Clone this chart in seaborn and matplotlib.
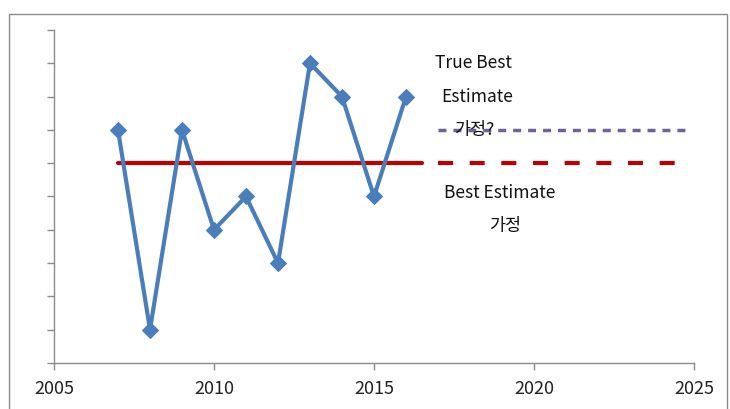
import matplotlib
matplotlib.use("Agg")
import matplotlib.pyplot as plt
import seaborn as sns
import pandas as pd
from matplotlib.patches import Rectangle

sns.set_theme(style="white")
plt.rcParams['font.family'] = ['Noto Sans CJK KR', 'DejaVu Sans']

years = [2007, 2008, 2009, 2010, 2011, 2012, 2013, 2014, 2015, 2016]
values = [7, 1, 7, 4, 5, 3, 9, 8, 5, 8]
best_estimate = 6
true_best_estimate = 7
solid_span = [2007, 2016.5]
dashed_span = [2017, 2024.5]
true_span = [2017, 2024.8]
x_ticks = [2005, 2010, 2015, 2020, 2025]

df = pd.DataFrame({"year": years, "value": values})
be_solid = pd.DataFrame({"x": solid_span, "y": [best_estimate] * 2})
be_dash = pd.DataFrame({"x": dashed_span, "y": [best_estimate] * 2})
tbe_dash = pd.DataFrame({"x": true_span, "y": [true_best_estimate] * 2})

fig = plt.figure(figsize=(7.30, 4.09), dpi=100)
fig.patches.append(Rectangle((9/730, -0.05), (727-9)/730, 1 - 14/409 + 0.05,
                             transform=fig.transFigure, fill=False,
                             edgecolor="#8c8c8c", linewidth=1.0))
ax = fig.add_axes([54/730, 1 - 363/409, (694-54)/730, (363-30)/409])

sns.lineplot(data=be_solid, x="x", y="y", ax=ax, color="#C00000", linewidth=3, zorder=2)
sns.lineplot(data=be_dash, x="x", y="y", ax=ax, color="#C00000", linewidth=3,
             linestyle=(0, (3.6, 4.0)), zorder=2)
sns.lineplot(data=tbe_dash, x="x", y="y", ax=ax, color="#7060A0", linewidth=2.5,
             linestyle=(0, (2.3, 2.0)), zorder=2)
sns.lineplot(data=df, x="year", y="value", ax=ax, color="#4A7EBB", linewidth=3,
             marker="D", markersize=8, markeredgecolor="#4A7EBB", zorder=3)

ax.set_xlim(2005, 2025)
ax.set_ylim(0, 10)
ax.set_xticks(x_ticks)
ax.set_xticklabels([str(t) for t in x_ticks])
ax.set_yticks(range(0, 11))
ax.set_yticklabels([])
ax.set_xlabel("")
ax.set_ylabel("")
for s in ["top", "right"]:
    ax.spines[s].set_visible(False)
for s in ["left", "bottom"]:
    ax.spines[s].set_color("#8c8c8c")
    ax.spines[s].set_linewidth(1.0)
ax.tick_params(axis="both", which="both", direction="out", length=5, width=1,
               color="#8c8c8c", left=True, bottom=True)
ax.tick_params(axis="x", labelsize=13, pad=7, labelcolor="#222222")

tkw = dict(fontsize=12.5, color="#111111", va="center", ha="left")
ax.text(2016.9, 9.0, "True Best", **tkw)
ax.text(2017.1, 8.0, "Estimate", **tkw)
ax.text(2017.5, 7.0, "가정?", **tkw)
ax.text(2017.2, 5.1, "Best Estimate", **tkw)
ax.text(2018.6, 4.1, "가정", **tkw)

fig.savefig("out.png", dpi=100)
